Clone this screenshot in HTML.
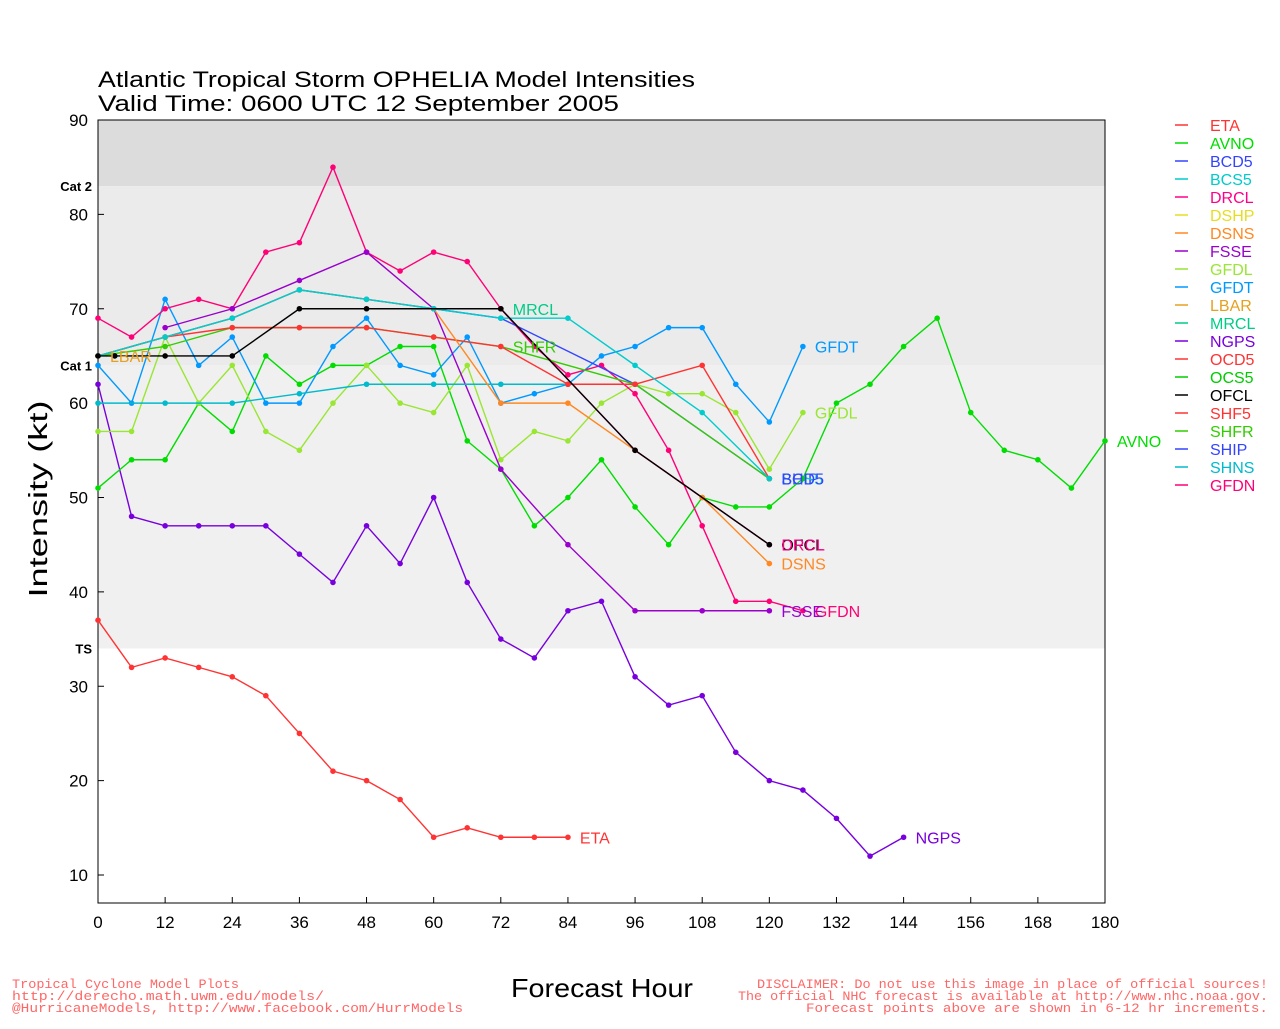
<!DOCTYPE html>
<html><head><meta charset="utf-8"><style>
body{margin:0;background:#fff;}
svg text{font-family:"Liberation Sans",sans-serif;}
svg .mono text{font-family:"Liberation Mono",monospace;}
</style></head><body>
<svg id="chart" width="1280" height="1024" xmlns="http://www.w3.org/2000/svg">
<g id="bands"></g>
<g id="axes"></g>
<g id="series"></g>
<g id="legend"></g>
<text x="98" y="87" font-size="22" fill="#000" textLength="597" lengthAdjust="spacingAndGlyphs">Atlantic Tropical Storm OPHELIA Model Intensities</text>
<text x="98" y="111" font-size="22" fill="#000" textLength="521" lengthAdjust="spacingAndGlyphs">Valid Time: 0600 UTC 12 September 2005</text>
<text transform="translate(47,499) rotate(-90)" text-anchor="middle" font-size="26" fill="#000" textLength="197" lengthAdjust="spacingAndGlyphs">Intensity (kt)</text>
<text x="511" y="997" font-size="26" fill="#000" textLength="182" lengthAdjust="spacingAndGlyphs">Forecast Hour</text>
<g class="mono" font-size="13" fill="#ff6666">
<text x="12" y="988" textLength="227" lengthAdjust="spacingAndGlyphs">Tropical Cyclone Model Plots</text>
<text x="12" y="1000" textLength="312" lengthAdjust="spacingAndGlyphs">http://derecho.math.uwm.edu/models/</text>
<text x="12" y="1012" textLength="451" lengthAdjust="spacingAndGlyphs">@HurricaneModels, http://www.facebook.com/HurrModels</text>
</g>
<g class="mono" font-size="13" fill="#ff6666">
<text x="757" y="988" textLength="511" lengthAdjust="spacingAndGlyphs">DISCLAIMER: Do not use this image in place of official sources!</text>
<text x="738" y="1000" textLength="530" lengthAdjust="spacingAndGlyphs">The official NHC forecast is available at http://www.nhc.noaa.gov.</text>
<text x="806" y="1012" textLength="462" lengthAdjust="spacingAndGlyphs">Forecast points above are shown in 6-12 hr increments.</text>
</g>
</svg>
<script>
const xTicks=[0,12,24,36,48,60,72,84,96,108,120,132,144,156,168,180];
const yTicks=[10,20,30,40,50,60,70,80,90];
const seriesNames=["ETA","AVNO","BCD5","BCS5","DRCL","DSHP","DSNS","FSSE","GFDL","GFDT","LBAR","MRCL","NGPS","OCD5","OCS5","OFCL","SHF5","SHFR","SHIP","SHNS","GFDN"];
const seriesColors=["#ff3333","#00dd00","#3344ff","#00cccc","#ff0088","#e6dd22","#ff8822","#9900cc","#99e633","#0099ff","#e6a020","#00cc88","#7700dd","#ff3333","#00cc00","#000000","#ff3333","#33cc00","#3344ff","#00bbcc","#ff0077"];
const hETA=[0,6,12,18,24,30,36,42,48,54,60,66,72,78,84];
const vETA=[37,32,33,32,31,29,25,21,20,18,14,15,14,14,14];
const hNGPS=[0,6,12,18,24,30,36,42,48,54,60,66,72,78,84,90,96,102,108,114,120,126,132,138,144];
const vNGPS=[62,48,47,47,47,47,44,41,47,43,50,41,35,33,38,39,31,28,29,23,20,19,16,12,14];
const hAVNO=[0,6,12,18,24,30,36,42,48,54,60,66,72,78,84,90,96,102,108,114,120,126,132,138,144,150,156,162,168,174,180];
const vAVNO=[51,54,54,60,57,65,62,64,64,66,66,56,53,47,50,54,49,45,50,49,49,52,60,62,66,69,59,55,54,51,56];
const hGFDL=[0,6,12,18,24,30,36,42,48,54,60,66,72,78,84,90,96,102,108,114,120,126];
const vGFDL=[57,57,67,60,64,57,55,60,64,60,59,64,54,57,56,60,62,61,61,59,53,59];
const hGFDT=[0,6,12,18,24,30,36,42,48,54,60,66,72,78,84,90,96,102,108,114,120,126];
const vGFDT=[64,60,71,64,67,60,60,66,69,64,63,67,60,61,62,65,66,68,68,62,58,66];
const hGFDN=[0,6,12,18,24,30,36,42,48,54,60,66,72,78,84,90,96,102,108,114,120,126];
const vGFDN=[69,67,70,71,70,76,77,85,76,74,76,75,70,66,63,64,61,55,47,39,39,38];
const hFSSE=[12,24,36,48,60,72,84,96,108,120];
const vFSSE=[68,70,73,76,70,53,45,38,38,38];
const hBCD5=[0,12,24,36,48,60,72,96,120];
const vBCD5=[65,67,69,72,71,70,69,62,52];
const hBCS5=[0,12,24,36,48,60,72,84,96,108,120];
const vBCS5=[65,67,69,72,71,70,69,69,64,59,52];
const hSHNS=[0,12,24,36,48,60,72,84];
const vSHNS=[60,60,60,61,62,62,62,62];
const hOFCL=[0,3,12,24,36,48,72,96,120];
const vOFCL=[65,65,65,65,70,70,70,55,45];
const hDRCL=[72,96,120];
const vDRCL=[70,55,45];
const hSHFR=[0,12,24,36,48,60,72,96,120];
const vSHFR=[65,66,68,68,68,67,66,62,52];
const hOCD5=[0,12,24,36,48,60,72,84,96,108,120];
const vOCD5=[65,67,68,68,68,67,66,62,62,64,52];
const hDSNS=[0,12,24,36,48,60,72,84,96,108,120];
const vDSNS=[65,67,69,72,71,70,60,60,55,50,43];
const labelNames=["ETA","NGPS","AVNO","GFDL","GFDT","GFDN","FSSE","SHIP","BCS5","BCD5","OFCL","DRCL","DSNS","MRCL","SHFR","LBAR"];
const labelHours=[84,144,180,126,126,126,120,120,120,120,120,120,120,72,72,0];
const labelValues=[14,14,56,59,66,38,38,52,52,52,45,45,43,70,66,65];

const X0=98,X1=1105,Y0=120,YB=903;
const xs=h=>X0+(h/180)*(X1-X0);
const ys=v=>Y0+(90-v)*((875-120)/80);
const NS="http://www.w3.org/2000/svg";
function mk(tag,attrs,parent){const e=document.createElementNS(NS,tag);for(const k in attrs)e.setAttribute(k,attrs[k]);parent.appendChild(e);return e;}
const bands=document.getElementById('bands');
let r;
r=mk('rect',{x:X0,y:Y0,width:X1-X0,height:ys(83)-Y0,fill:'#dcdcdc'},bands);

r=mk('rect',{x:X0,y:ys(83),width:X1-X0,height:ys(64)-ys(83),fill:'#ebebeb'},bands);

r=mk('rect',{x:X0,y:ys(64),width:X1-X0,height:ys(34)-ys(64),fill:'#f0f0f0'},bands);

[["Cat 2",83,"cat2-label"],["Cat 1",64,"cat1-label"],["TS",34,"ts-label"]].forEach(c=>{
 const t=mk('text',{x:92,y:ys(c[1])+5,'text-anchor':'end','font-size':13,'font-weight':'bold',fill:'#000'},bands);t.textContent=c[0];
 });
const axes=document.getElementById('axes');
r=mk('rect',{x:X0,y:Y0,width:X1-X0,height:YB-Y0,fill:'none',stroke:'#000','stroke-width':1},axes);

xTicks.forEach(h=>{mk('line',{x1:xs(h),x2:xs(h),y1:YB,y2:YB-6,stroke:'#000'},axes);
 const t=mk('text',{x:xs(h),y:928,'text-anchor':'middle','font-size':17,fill:'#000'},axes);t.textContent=h;
 });
yTicks.forEach(v=>{mk('line',{x1:X0,x2:X0+6,y1:ys(v),y2:ys(v),stroke:'#000'},axes);
 const t=mk('text',{x:88,y:ys(v)+6,'text-anchor':'end','font-size':17,fill:'#000'},axes);t.textContent=v;
 });
const S={ETA:[hETA,vETA],NGPS:[hNGPS,vNGPS],AVNO:[hAVNO,vAVNO],GFDL:[hGFDL,vGFDL],GFDT:[hGFDT,vGFDT],GFDN:[hGFDN,vGFDN],FSSE:[hFSSE,vFSSE],BCD5:[hBCD5,vBCD5],SHNS:[hSHNS,vSHNS],SHFR:[hSHFR,vSHFR],OCD5:[hOCD5,vOCD5],DSNS:[hDSNS,vDSNS],BCS5:[hBCS5,vBCS5],DRCL:[hDRCL,vDRCL],OFCL:[hOFCL,vOFCL]};
const colorOf=n=>seriesColors[seriesNames.indexOf(n)];
const sg=document.getElementById('series');
Object.keys(S).forEach(n=>{
 const [hh,vv]=S[n];const g=mk('g',{},sg);
 
 
 mk('polyline',{points:hh.map((h,i)=>xs(h)+','+ys(vv[i])).join(' '),fill:'none',stroke:colorOf(n),'stroke-width':1.4},g);
 hh.forEach((h,i)=>{const c=mk('circle',{cx:xs(h),cy:ys(vv[i]),r:2.8,fill:colorOf(n)},g);
  });
});
labelNames.forEach((n,i)=>{
 const t=mk('text',{x:xs(labelHours[i])+12,y:ys(labelValues[i])+6,'font-size':16,fill:colorOf(n)},sg);t.textContent=n;
 });
const lg=document.getElementById('legend');
seriesNames.forEach((n,i)=>{const y=125+i*18;
 const g=mk('g',{},lg);
 
 
 mk('line',{x1:1175,x2:1188,y1:y,y2:y,stroke:seriesColors[i],'stroke-width':1.5},g);
 const t=mk('text',{x:1210,y:y+6,'font-size':16,fill:seriesColors[i]},g);t.textContent=n;});
</script>
</body></html>
